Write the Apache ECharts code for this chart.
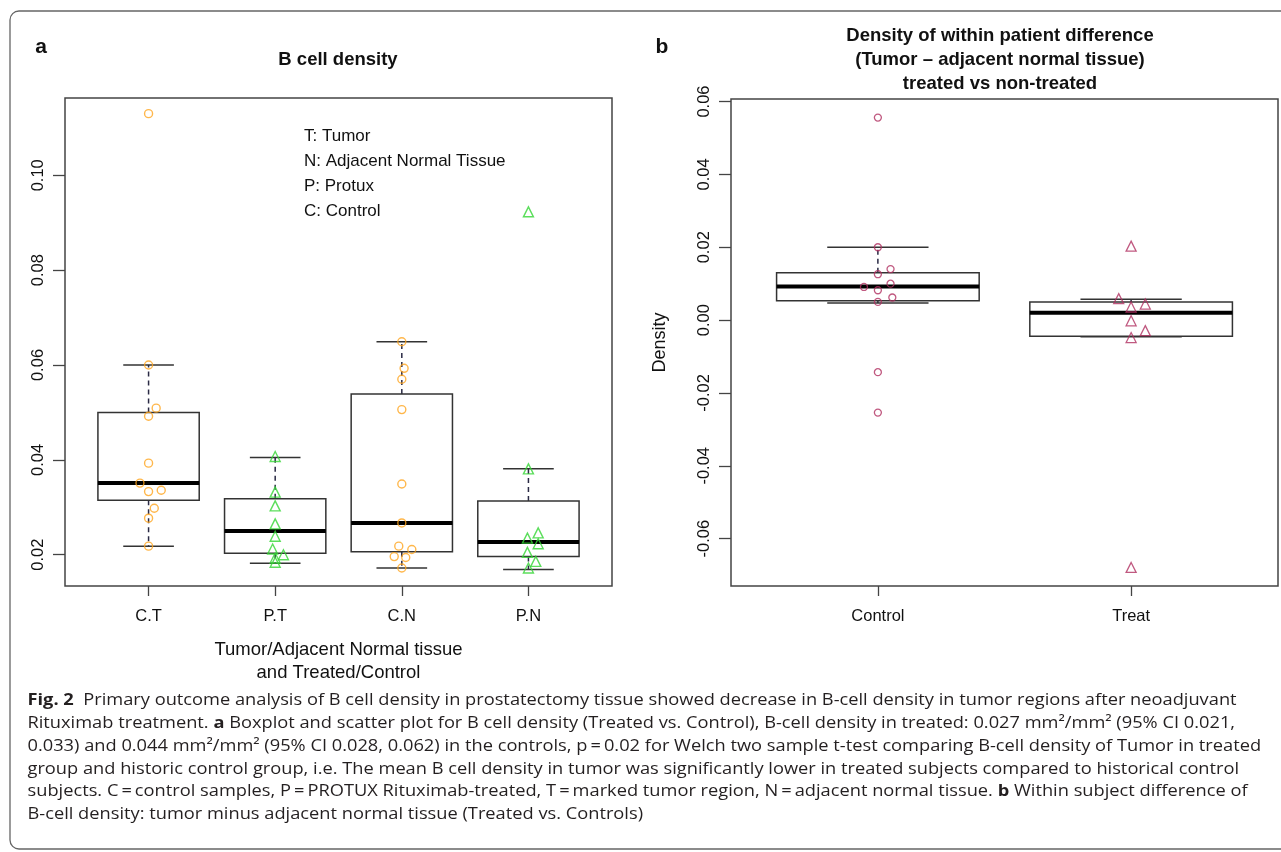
<!DOCTYPE html>
<html>
<head>
<meta charset="utf-8">
<script src="https://cdn.jsdelivr.net/npm/echarts@6/dist/echarts.min.js"></script>
<style>
html, body { margin: 0; padding: 0; background: #fff; }
#chart { width: 1281px; height: 852px; }
</style>
</head>
<body>
<div id="chart"></div>
<script>
// ---- panel a: B cell density ----
var groupsA = ['C.T', 'P.T', 'C.N', 'P.N'];
var ticksA = [0.02, 0.04, 0.06, 0.08, 0.10];
// box stats: lower whisker, q1, median, q3, upper whisker
var boxCT = [0.0218, 0.0315, 0.0351, 0.0500, 0.0600];
var boxPT = [0.0182, 0.0203, 0.0250, 0.0318, 0.0405];
var boxCN = [0.0172, 0.0206, 0.0267, 0.0539, 0.0649];
var boxPN = [0.0169, 0.0196, 0.0227, 0.0313, 0.0381];
// points and their horizontal jitter (in category units)
var valsCT = [0.1130, 0.0600, 0.0509, 0.0492, 0.0393, 0.0351, 0.0336, 0.0333, 0.0298, 0.0277, 0.0218];
var jitCT  = [0, 0, 0.06, 0, 0, -0.068, 0.10, 0, 0.045, 0, 0];
var valsPT = [0.0407, 0.0332, 0.0303, 0.0265, 0.0239, 0.0212, 0.0200, 0.0193, 0.0184];
var jitPT  = [0, 0, 0, 0, 0, -0.02, 0.065, 0, 0];
var valsCN = [0.0649, 0.0593, 0.0570, 0.0506, 0.0349, 0.0267, 0.0218, 0.0211, 0.0196, 0.0194, 0.0172];
var jitCN  = [0, 0.018, 0, 0, 0, 0, -0.024, 0.079, -0.06, 0.031, 0];
var valsPN = [0.0923, 0.0381, 0.0246, 0.0235, 0.0223, 0.0205, 0.0186, 0.0172];
var jitPN  = [0, 0, 0.077, -0.008, 0.077, -0.008, 0.058, 0];

// ---- panel b: within patient difference ----
var groupsB = ['Control', 'Treat'];
var ticksB = [-0.06, -0.04, -0.02, 0, 0.02, 0.04, 0.06];
var boxControl = [0.0047, 0.0053, 0.0092, 0.0130, 0.0200];
var boxTreat = [-0.0046, -0.0044, 0.0020, 0.0050, 0.0057];
var valsControl = [0.0556, 0.0200, 0.0140, 0.0126, 0.0100, 0.0091, 0.0082, 0.0062, 0.0050, -0.0143, -0.0254];
var jitControl  = [0, 0, 0.05, 0, 0.05, -0.055, 0, 0.057, 0, 0, 0];
var valsTreat = [0.0203, 0.0059, 0.0044, 0.0036, -0.0002, -0.0029, -0.0048, -0.0679];
var jitTreat  = [0, -0.049, 0.056, 0, 0, 0.056, 0, 0];

var FONT = '"Liberation Sans", Arial, sans-serif';
var CAPFONT = '"Open Sans", "Noto Sans", sans-serif';

function pts(pos, vals, jit) {
    return vals.map(function (v, i) { return [pos + jit[i], v]; });
}

function boxRender(params, api) {
    var x = api.value(0);
    var lo = api.coord([x, api.value(1)]);
    var q1 = api.coord([x, api.value(2)]);
    var md = api.coord([x, api.value(3)]);
    var q3 = api.coord([x, api.value(4)]);
    var hi = api.coord([x, api.value(5)]);
    var bw = api.size([0.4, 0])[0];
    var cw = api.size([0.2, 0])[0];
    var cx = lo[0];
    var solid = { stroke: '#333', lineWidth: 1.5, fill: null };
    var dash = { stroke: '#2a2a44', lineWidth: 1.5, lineDash: [5, 4], fill: null };
    function ln(x1, y1, x2, y2, st) {
        return { type: 'line', shape: { x1: x1, y1: y1, x2: x2, y2: y2 }, style: st };
    }
    return {
        type: 'group',
        children: [
            ln(cx, q3[1], cx, hi[1], dash),
            ln(cx, q1[1], cx, lo[1], dash),
            ln(cx - cw, hi[1], cx + cw, hi[1], solid),
            ln(cx - cw, lo[1], cx + cw, lo[1], solid),
            { type: 'rect', shape: { x: cx - bw, y: q3[1], width: 2 * bw, height: q1[1] - q3[1] },
              style: { stroke: '#333', lineWidth: 1.5, fill: 'rgba(0,0,0,0)' } },
            ln(cx - bw, md[1], cx + bw, md[1], { stroke: '#000', lineWidth: 4 })
        ]
    };
}

function valueXAxis(grid, min, max, names, name) {
    var pos = names.map(function (n, i) { return i + 1; });
    return {
        gridIndex: grid, type: 'value', min: min, max: max,
        axisLine: { show: false, onZero: false }, splitLine: { show: false },
        axisTick: { show: true, length: 10, customValues: pos, lineStyle: { color: '#444', width: 1.3 } },
        axisLabel: {
            customValues: pos, margin: 22, color: '#111', fontSize: 16.5, fontFamily: FONT,
            formatter: function (v) { return names[Math.round(v) - 1]; }
        },
        name: name, nameLocation: 'middle', nameGap: 52,
        nameTextStyle: { color: '#111', fontSize: 18.5, fontFamily: FONT, lineHeight: 23 }
    };
}

function valueYAxis(grid, min, max, ticks, name) {
    return {
        gridIndex: grid, type: 'value', min: min, max: max,
        axisLine: { show: false, onZero: false }, splitLine: { show: false },
        axisTick: { show: true, length: 12, customValues: ticks, lineStyle: { color: '#444', width: 1.3 } },
        axisLabel: {
            customValues: ticks, rotate: 90, margin: 18, color: '#111', fontSize: 16.5, fontFamily: FONT,
            formatter: function (v) { return v.toFixed(2); }
        },
        name: name, nameLocation: 'middle', nameGap: 62, nameRotate: 90,
        nameTextStyle: { color: '#111', fontSize: 18, fontFamily: FONT }
    };
}

var captionLines = [
    '{b|Fig. 2}  Primary outcome analysis of B cell density in prostatectomy tissue showed decrease in B-cell density in tumor regions after neoadjuvant',
    'Rituximab treatment. {b|a} Boxplot and scatter plot for B cell density (Treated vs. Control), B-cell density in treated: 0.027 mm\u00b2/mm\u00b2 (95% CI 0.021,',
    '0.033) and 0.044 mm\u00b2/mm\u00b2 (95% CI 0.028, 0.062) in the controls, p\u2009=\u20090.02 for Welch two sample t-test comparing B-cell density of Tumor in treated',
    'group and historic control group, i.e. The mean B cell density in tumor was significantly lower in treated subjects compared to historical control',
    'subjects. C\u2009=\u2009control samples, P\u2009=\u2009PROTUX Rituximab-treated, T\u2009=\u2009marked tumor region, N\u2009=\u2009adjacent normal tissue. {b|b} Within subject difference of',
    'B-cell density: tumor minus adjacent normal tissue (Treated vs. Controls)'
];

var graphics = [
    { type: 'rect', shape: { x: 10, y: 11, width: 1300, height: 838, r: 9 },
      style: { fill: null, stroke: '#666', lineWidth: 1.3 }, silent: true },
    { type: 'text', x: 41, y: 47, style: { text: 'a', font: 'bold 21px ' + FONT, fill: '#111', align: 'center', verticalAlign: 'middle' } },
    { type: 'text', x: 662, y: 47, style: { text: 'b', font: 'bold 21px ' + FONT, fill: '#111', align: 'center', verticalAlign: 'middle' } },
    { type: 'text', x: 338, y: 60, style: { text: 'B cell density', font: 'bold 18.5px ' + FONT, fill: '#111', align: 'center', verticalAlign: 'middle' } },
    { type: 'text', x: 1000, y: 59.5, style: {
        text: 'Density of within patient difference\n(Tumor \u2013 adjacent normal tissue)\ntreated vs non-treated',
        font: 'bold 18.5px ' + FONT, lineHeight: 24, fill: '#111', align: 'center', verticalAlign: 'middle' } },
    { type: 'text', x: 304, y: 174.2, style: {
        text: 'T: Tumor\nN: Adjacent Normal Tissue\nP: Protux\nC: Control',
        font: '17px ' + FONT, lineHeight: 25, fill: '#111', align: 'left', verticalAlign: 'middle' } }
];
captionLines.forEach(function (t, i) {
    graphics.push({ type: 'text', x: 27.5, y: 700.5 + i * 22.8, scaleX: 1.106, style: {
        text: t, font: '16.5px ' + CAPFONT, fill: '#231f20', align: 'left', verticalAlign: 'middle',
        rich: { b: { fontWeight: 'bold', fontFamily: CAPFONT, fontSize: 16.5 } } } });
});

var chart = echarts.init(document.getElementById('chart'));
var option = {
    animation: false,
    backgroundColor: '#fff',
    grid: [
        { left: 65, top: 98, width: 547, height: 488, show: true, borderColor: '#444', borderWidth: 1.5, backgroundColor: 'transparent' },
        { left: 731, top: 99, width: 547, height: 487, show: true, borderColor: '#444', borderWidth: 1.5, backgroundColor: 'transparent' }
    ],
    xAxis: [
        valueXAxis(0, 0.34, 4.66, groupsA, 'Tumor/Adjacent Normal tissue\nand Treated/Control'),
        valueXAxis(1, 0.42, 2.58, groupsB, '')
    ],
    yAxis: [
        valueYAxis(0, 0.0134, 0.1163, ticksA, ''),
        valueYAxis(1, -0.0730, 0.0607, ticksB, 'Density')
    ],
    graphic: graphics,
    series: [
        { type: 'custom', xAxisIndex: 0, yAxisIndex: 0, renderItem: boxRender,
          encode: { x: 0, y: [1, 2, 3, 4, 5] },
          data: [[1].concat(boxCT), [2].concat(boxPT), [3].concat(boxCN), [4].concat(boxPN)] },
        { type: 'scatter', xAxisIndex: 0, yAxisIndex: 0, symbol: 'circle', symbolSize: 8,
          itemStyle: { color: 'rgba(0,0,0,0)', borderColor: '#ffa51e', borderWidth: 1.4 },
          data: pts(1, valsCT, jitCT).concat(pts(3, valsCN, jitCN)) },
        { type: 'scatter', xAxisIndex: 0, yAxisIndex: 0, symbol: 'triangle', symbolSize: 10,
          itemStyle: { color: 'rgba(0,0,0,0)', borderColor: '#33d633', borderWidth: 1.4 },
          data: pts(2, valsPT, jitPT).concat(pts(4, valsPN, jitPN)) },
        { type: 'custom', xAxisIndex: 1, yAxisIndex: 1, renderItem: boxRender,
          encode: { x: 0, y: [1, 2, 3, 4, 5] },
          data: [[1].concat(boxControl), [2].concat(boxTreat)] },
        { type: 'scatter', xAxisIndex: 1, yAxisIndex: 1, symbol: 'circle', symbolSize: 7,
          itemStyle: { color: 'rgba(0,0,0,0)', borderColor: '#b03060', borderWidth: 1.3 },
          data: pts(1, valsControl, jitControl) },
        { type: 'scatter', xAxisIndex: 1, yAxisIndex: 1, symbol: 'triangle', symbolSize: 10,
          itemStyle: { color: 'rgba(0,0,0,0)', borderColor: '#b03060', borderWidth: 1.3 },
          data: pts(2, valsTreat, jitTreat) }
    ]
};
chart.setOption(option);
</script>
</body>
</html>
